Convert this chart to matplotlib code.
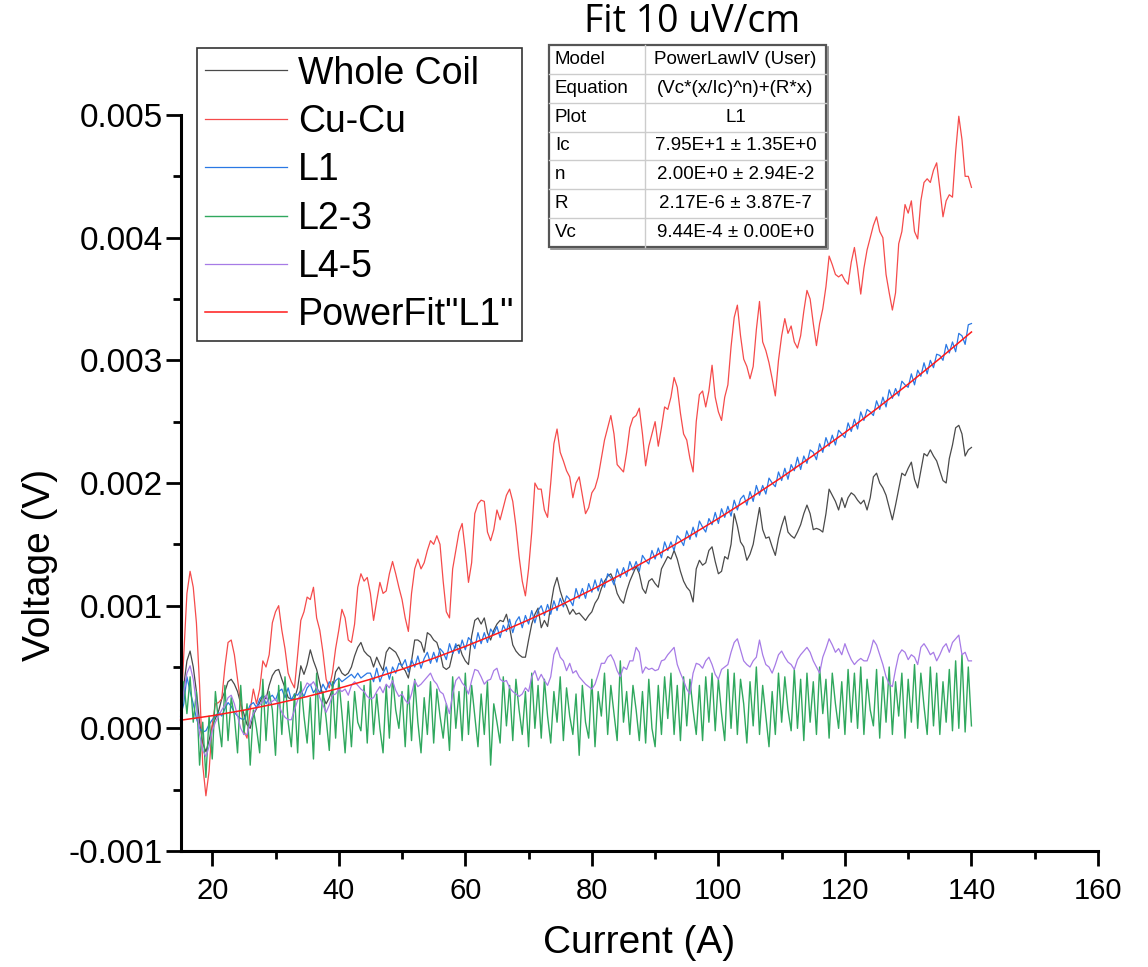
import numpy as np
import matplotlib
matplotlib.use("Agg")
import matplotlib.pyplot as plt
from matplotlib.ticker import MultipleLocator, FormatStrFormatter

# sampling grid of the measurement (A), 0.5 A steps from 15 A to 140 A
current_start = 15.0
current_step = 0.5

# voltages, in mV
whole_coil_mv = [
    0.15, 0.35, 0.55, 0.63, 0.5, 0.3, 0.05, -0.12, -0.19, -0.1,
    0.02, 0.08, 0.14, 0.24, 0.3, 0.38, 0.4, 0.36, 0.3, 0.2,
    0.12, 0.03, 0.0, 0.11, 0.16, 0.21, 0.27, 0.24, 0.35, 0.43,
    0.47, 0.48, 0.4, 0.33, 0.25, 0.24, 0.24, 0.33, 0.51, 0.44,
    0.52, 0.64, 0.55, 0.48, 0.37, 0.26, 0.2, 0.25, 0.32, 0.46,
    0.5, 0.45, 0.43, 0.45, 0.5, 0.59, 0.66, 0.7, 0.63, 0.6,
    0.58, 0.5, 0.58, 0.52, 0.47, 0.62, 0.66, 0.64, 0.62, 0.57,
    0.5, 0.47, 0.41, 0.55, 0.72, 0.72, 0.7, 0.62, 0.78, 0.76,
    0.72, 0.7, 0.62, 0.5, 0.48, 0.5, 0.61, 0.67, 0.68, 0.6,
    0.55, 0.52, 0.75, 0.88, 0.9, 0.85, 0.9, 0.78, 0.72, 0.8,
    0.85, 0.88, 0.87, 0.93, 0.82, 0.68, 0.63, 0.6, 0.58, 0.58,
    0.72, 0.85, 0.93, 0.98, 0.82, 0.88, 0.83, 1.0, 1.15, 1.23,
    1.12, 1.04, 1.0, 0.93, 0.97, 0.93, 0.94, 0.91, 0.88, 0.92,
    0.95, 1.02, 1.06, 1.14, 1.2, 1.24, 1.26, 1.2, 1.1, 1.05,
    1.02, 1.12, 1.2, 1.26, 1.32, 1.26, 1.14, 1.1, 1.2, 1.22,
    1.18, 1.15, 1.3, 1.35, 1.4, 1.38, 1.45, 1.38, 1.28, 1.2,
    1.15, 1.12, 1.03, 1.3, 1.37, 1.33, 1.35, 1.45, 1.48, 1.36,
    1.26, 1.28, 1.4, 1.38, 1.5, 1.75, 1.65, 1.52, 1.48, 1.37,
    1.42, 1.5, 1.65, 1.8, 1.62, 1.55, 1.56, 1.48, 1.41, 1.55,
    1.65, 1.73, 1.6, 1.57, 1.55, 1.6, 1.66, 1.75, 1.82, 1.75,
    1.62, 1.63, 1.62, 1.6, 1.75, 1.95, 1.9, 1.85, 1.78, 1.88,
    1.8, 1.88, 1.92, 1.9, 1.86, 1.83, 1.86, 1.78, 1.88, 2.05,
    2.08, 2.0, 1.96, 1.9, 1.8, 1.7, 1.82, 1.95, 2.08, 2.06,
    2.12, 2.17, 2.03, 1.96, 2.1, 2.24, 2.22, 2.27, 2.22, 2.18,
    2.1, 2.02, 2.0, 2.2, 2.31, 2.45, 2.47, 2.4, 2.22, 2.27,
    2.29,
]

cu_cu_mv = [
    0.05, 0.6, 1.1, 1.28, 1.15, 0.86, 0.35, -0.3, -0.55, -0.35,
    0.03, 0.2, 0.21, 0.24, 0.5, 0.7, 0.72, 0.6, 0.4, 0.2,
    -0.02, -0.08, 0.15, 0.32, 0.2, 0.32, 0.55, 0.5, 0.6, 0.86,
    0.95, 1.0, 0.8, 0.65, 0.45, 0.38, 0.33, 0.6, 0.88, 0.95,
    1.07, 1.05, 1.15, 0.9, 0.8, 0.62, 0.4, 0.33, 0.45, 0.65,
    0.8, 0.97, 0.9, 0.72, 0.7, 0.85, 1.15, 1.26, 1.2, 1.23,
    1.1, 0.88, 1.04, 1.19, 1.1, 1.12, 1.26, 1.36, 1.26, 1.15,
    1.05, 0.9, 0.79, 1.1, 1.3, 1.38, 1.3, 1.35, 1.45, 1.53,
    1.5, 1.57, 1.5, 1.2, 0.95, 0.9, 1.3, 1.45, 1.6, 1.67,
    1.45, 1.19, 1.35, 1.75, 1.83, 1.86, 1.85, 1.6, 1.53, 1.62,
    1.78, 1.7, 1.8, 1.9, 1.95, 1.85, 1.65, 1.4, 1.2, 1.08,
    1.3, 1.6, 2.0, 1.95, 1.95, 1.78, 1.72, 2.0, 2.32, 2.44,
    2.25, 2.18, 2.1, 2.05, 1.88, 2.0, 2.05, 1.9, 1.75, 1.8,
    1.92, 1.96, 2.05, 2.2, 2.35, 2.45, 2.55, 2.4, 2.15, 2.12,
    2.09, 2.25, 2.45, 2.53, 2.55, 2.61, 2.4, 2.14, 2.3, 2.4,
    2.5, 2.3, 2.45, 2.62, 2.6, 2.7, 2.86, 2.78, 2.57, 2.4,
    2.35, 2.2, 2.09, 2.5, 2.72, 2.75, 2.62, 2.75, 2.96, 2.7,
    2.58, 2.51, 2.7, 2.8, 3.11, 3.35, 3.45, 3.2, 3.01, 2.95,
    2.85, 2.95, 3.25, 3.48, 3.15, 3.08, 2.98, 2.85, 2.71, 3.0,
    3.2, 3.34, 3.22, 3.28, 3.15, 3.1, 3.2, 3.4, 3.57, 3.5,
    3.3, 3.12, 3.3, 3.42, 3.6, 3.85, 3.78, 3.7, 3.68, 3.7,
    3.65, 3.62, 3.8, 3.92, 3.75, 3.54, 3.75, 3.9, 4.0, 4.1,
    4.17, 4.05, 4.0, 3.7, 3.55, 3.41, 3.55, 3.95, 4.05, 4.27,
    4.2, 4.3, 4.05, 3.99, 4.3, 4.45, 4.48, 4.45, 4.55, 4.61,
    4.4, 4.17, 4.3, 4.35, 4.33, 4.7, 4.99, 4.8, 4.5, 4.5,
    4.41,
]

l1_mv = [
    0.1, 0.2, 0.42, 0.3, 0.2, 0.08, 0.0, -0.03, -0.02, 0.03,
    0.07, 0.1, 0.13, 0.1, 0.16, 0.21, 0.18, 0.13, 0.1, 0.08,
    0.07, 0.13, 0.19, 0.21, 0.17, 0.24, 0.27, 0.2, 0.25, 0.27,
    0.23, 0.3, 0.32, 0.25, 0.33, 0.23, 0.28, 0.27, 0.31, 0.26,
    0.33, 0.36, 0.29, 0.33, 0.29, 0.36, 0.31, 0.38, 0.34, 0.39,
    0.41, 0.38, 0.4, 0.42, 0.44, 0.41, 0.45, 0.41, 0.43, 0.45,
    0.45, 0.38, 0.49, 0.38, 0.45, 0.50, 0.40, 0.50, 0.45, 0.53,
    0.51, 0.56, 0.46, 0.56, 0.50, 0.59, 0.49, 0.57, 0.62, 0.53,
    0.62, 0.54, 0.65, 0.62, 0.56, 0.69, 0.61, 0.69, 0.61, 0.72,
    0.64, 0.74, 0.71, 0.65, 0.78, 0.69, 0.78, 0.70, 0.81, 0.77,
    0.83, 0.74, 0.84, 0.79, 0.89, 0.78, 0.87, 0.91, 0.82, 0.92,
    0.85, 0.96, 0.86, 0.96, 1.00, 0.92, 1.01, 0.93, 1.04, 0.96,
    1.06, 0.99, 1.08, 1.05, 1.00, 1.14, 1.06, 1.14, 1.06, 1.18,
    1.11, 1.21, 1.12, 1.22, 1.15, 1.26, 1.23, 1.17, 1.30, 1.23,
    1.31, 1.24, 1.36, 1.29, 1.36, 1.28, 1.41, 1.37, 1.34, 1.45,
    1.38, 1.47, 1.39, 1.52, 1.45, 1.52, 1.45, 1.57, 1.54, 1.49,
    1.61, 1.54, 1.64, 1.56, 1.69, 1.64, 1.60, 1.71, 1.66, 1.76,
    1.67, 1.79, 1.72, 1.81, 1.73, 1.86, 1.78, 1.87, 1.90, 1.82,
    1.93, 1.85, 1.98, 1.90, 1.98, 1.91, 2.04, 2.00, 1.97, 2.09,
    2.02, 2.12, 2.03, 2.15, 2.10, 2.21, 2.11, 2.22, 2.16, 2.27,
    2.25, 2.19, 2.32, 2.25, 2.37, 2.30, 2.39, 2.31, 2.43, 2.40,
    2.37, 2.49, 2.42, 2.52, 2.44, 2.58, 2.51, 2.60, 2.58, 2.55,
    2.67, 2.60, 2.70, 2.62, 2.76, 2.69, 2.77, 2.71, 2.83, 2.80,
    2.78, 2.89, 2.80, 2.92, 2.87, 2.98, 2.89, 3.00, 2.94, 3.05,
    3.04, 3.00, 3.13, 3.06, 3.15, 3.07, 3.22, 3.20, 3.13, 3.29,
    3.30,
]

l2_3_mv = [
    -0.05, 0.38, 0.12, 0.42, 0.05, 0.3, -0.3, 0.05, -0.4, 0.1,
    -0.25, 0.3, 0.05, -0.15, 0.35, -0.1, 0.25, 0.1, -0.2, 0.35,
    -0.05, 0.2, -0.3, 0.15, 0.0, -0.2, 0.4, -0.1, 0.3, 0.15,
    -0.22, 0.35, -0.05, 0.42, 0.05, -0.15, 0.28, -0.2, 0.38, 0.1,
    -0.12, 0.25, -0.25, 0.45, -0.05, 0.3, 0.08, -0.18, 0.38, -0.08,
    0.4, 0.12, -0.2, 0.22, -0.15, 0.3, 0.05, -0.02, 0.35, -0.12,
    0.4, -0.05, 0.28, 0.0, -0.2, 0.35, -0.08, 0.42, 0.15, 0.0,
    0.3, -0.15, 0.35, -0.1, 0.4, 0.05, -0.2, 0.25, -0.05, 0.38,
    -0.12, 0.32, 0.1, -0.08, 0.2, -0.18, 0.42, 0.0, 0.3, -0.1,
    0.45, -0.05, 0.35, 0.1, -0.15, 0.28, -0.05, 0.38, -0.3, 0.2,
    0.05, -0.12, 0.42, 0.02, 0.35, -0.1, 0.4, 0.15, -0.05, 0.3,
    -0.15, 0.45, 0.0, 0.35, -0.08, 0.4, 0.1, -0.12, 0.3, 0.05,
    0.42, -0.1, 0.33, 0.1, -0.05, 0.28, -0.22, 0.35, 0.05, -0.08,
    0.4, -0.15, 0.3, 0.1, 0.45, -0.05, 0.35, 0.12, -0.1, 0.55,
    0.05, 0.3, -0.05, 0.35, 0.15, -0.1, 0.3, -0.12, 0.4, 0.0,
    -0.15, 0.35, -0.05, 0.42, 0.08, 0.45, -0.05, 0.35, -0.1, 0.42,
    0.02, 0.4, 0.15, -0.05, 0.35, -0.1, 0.42, 0.05, 0.45, -0.02,
    0.4, 0.12, -0.1, 0.48, 0.0, 0.45, -0.05, 0.4, 0.2, -0.12,
    0.38, 0.02, 0.5, -0.05, 0.35, 0.1, -0.15, 0.3, -0.05, 0.45,
    0.05, 0.42, 0.15, -0.02, 0.48, 0.0, 0.4, -0.1, 0.45, 0.05,
    0.38, -0.05, 0.5, 0.12, 0.4, -0.08, 0.45, 0.2, 0.0, 0.38,
    -0.05, 0.48, 0.05, 0.45, 0.0, 0.5, -0.05, 0.4, 0.15, 0.02,
    0.48, -0.08, 0.42, 0.05, 0.5, -0.05, 0.38, 0.1, 0.45, -0.08,
    0.4, 0.05, 0.52, 0.0, 0.45, 0.18, -0.05, 0.5, 0.02, 0.45,
    -0.05, 0.38, 0.05, 0.48, -0.02, 0.55, 0.0, 0.6, -0.03, 0.5,
    0.02,
]

l4_5_mv = [
    0.1, 0.3, 0.45, 0.51, 0.4, 0.2, -0.05, -0.18, -0.23, -0.15,
    -0.02, 0.05, 0.1, 0.15, 0.19, 0.25, 0.27, 0.2, 0.1, 0.0,
    -0.05, -0.05, 0.05, 0.12, 0.17, 0.19, 0.22, 0.27, 0.2, 0.22,
    0.24, 0.19, 0.13, 0.09, 0.07, 0.07, 0.15, 0.23, 0.28, 0.32,
    0.37, 0.35, 0.38, 0.33, 0.25, 0.19, 0.13, 0.19, 0.27, 0.28,
    0.32, 0.3, 0.32, 0.27, 0.35, 0.38, 0.35, 0.32, 0.3, 0.26,
    0.24, 0.25, 0.3, 0.34, 0.29, 0.36, 0.33, 0.39, 0.31, 0.26,
    0.28, 0.23, 0.2, 0.28, 0.39, 0.34, 0.36, 0.39, 0.42, 0.45,
    0.39, 0.36, 0.3, 0.28, 0.2, 0.12, 0.28, 0.39, 0.42, 0.37,
    0.34, 0.28, 0.39, 0.48, 0.47, 0.42, 0.36, 0.39, 0.4, 0.47,
    0.49, 0.4, 0.38, 0.39, 0.33, 0.3, 0.28, 0.26, 0.28, 0.33,
    0.3, 0.42, 0.47, 0.39, 0.44, 0.39, 0.35, 0.42, 0.6, 0.66,
    0.58, 0.55, 0.47, 0.53, 0.45, 0.47, 0.42, 0.39, 0.36, 0.34,
    0.32, 0.36, 0.44, 0.53, 0.53, 0.58, 0.6, 0.55, 0.47, 0.42,
    0.5, 0.48, 0.55, 0.55, 0.66, 0.62, 0.45, 0.5, 0.48, 0.49,
    0.47, 0.48, 0.55, 0.56, 0.6, 0.63, 0.66, 0.52, 0.45, 0.39,
    0.32, 0.28, 0.45, 0.53, 0.52, 0.49, 0.55, 0.58, 0.52, 0.44,
    0.4, 0.48, 0.5, 0.52, 0.62, 0.7, 0.73, 0.64, 0.55, 0.52,
    0.5, 0.55, 0.58, 0.72, 0.6, 0.52, 0.5, 0.45, 0.52, 0.6,
    0.63, 0.58, 0.54, 0.52, 0.48, 0.56, 0.6, 0.63, 0.66, 0.62,
    0.55, 0.5, 0.45, 0.58, 0.65, 0.73, 0.68, 0.62, 0.65, 0.6,
    0.69, 0.62, 0.56, 0.52, 0.55, 0.57, 0.55, 0.55, 0.62, 0.72,
    0.68, 0.6, 0.52, 0.42, 0.36, 0.34, 0.48, 0.6, 0.64, 0.62,
    0.56, 0.6, 0.58, 0.52, 0.66, 0.69, 0.65, 0.6, 0.62, 0.55,
    0.6, 0.66, 0.69, 0.62, 0.7, 0.73, 0.76, 0.6, 0.62, 0.55,
    0.55,
]

# power-law fit curve of L1, read every 5 A (mV)
fit_current = [15, 20, 25, 30, 35, 40, 45, 50, 55, 60, 65, 70, 75,
               80, 85, 90, 95, 100, 105, 110, 115, 120, 125, 130, 135, 140]
fit_mv = [0.066, 0.103, 0.148, 0.200, 0.259, 0.326, 0.400, 0.482, 0.571,
          0.668, 0.772, 0.884, 1.003, 1.130, 1.264, 1.405, 1.554, 1.711,
          1.875, 2.046, 2.225, 2.411, 2.605, 2.806, 3.015, 3.231]

series_labels = ["Whole Coil", "Cu-Cu", "L1", "L2-3", "L4-5", 'PowerFit"L1"']

table_rows = [
    ("Model", "PowerLawIV (User)"),
    ("Equation", "(Vc*(x/Ic)^n)+(R*x)"),
    ("Plot", "L1"),
    ("Ic", "7.95E+1 \u00b1 1.35E+0"),
    ("n", "2.00E+0 \u00b1 2.94E-2"),
    ("R", "2.17E-6 \u00b1 3.87E-7"),
    ("Vc", "9.44E-4 \u00b1 0.00E+0"),
]

SANS = ["Liberation Sans", "DejaVu Sans"]


def to_volts(values_mv):
    return np.asarray(values_mv) * 1e-3


def grid_for(values):
    return current_start + current_step * np.arange(len(values))


fig = plt.figure(figsize=(11.48, 9.67), dpi=100)
ax = fig.add_axes([180.6 / 1148, 1 - 851 / 967, (1098 - 180.6) / 1148, (851 - 115) / 967])

styles = [
    (whole_coil_mv, "#4a4a4a", 0.9),
    (cu_cu_mv, "#f54b4b", 0.9),
    (l1_mv, "#2a78e4", 0.9),
    (l2_3_mv, "#30a85e", 1.0),
    (l4_5_mv, "#a77be6", 0.9),
]
for (vals, color, lw), label in zip(styles, series_labels):
    ax.plot(grid_for(vals), to_volts(vals), color=color, lw=lw, label=label, clip_on=False)

ax.plot(fit_current, to_volts(fit_mv), color="#ff1a1a", lw=1.1, label=series_labels[-1], clip_on=False)

ax.set_xlim(15, 160)
ax.set_ylim(-0.001, 0.005)
ax.xaxis.set_major_locator(MultipleLocator(20))
ax.xaxis.set_minor_locator(MultipleLocator(10))
ax.yaxis.set_major_locator(MultipleLocator(0.001))
ax.yaxis.set_minor_locator(MultipleLocator(0.0005))
ax.yaxis.set_major_formatter(FormatStrFormatter("%.3f"))

for side in ("top", "right"):
    ax.spines[side].set_visible(False)
for side in ("left", "bottom"):
    ax.spines[side].set_linewidth(2.2)

ax.tick_params(which="major", direction="out", length=11, width=2)
ax.tick_params(which="minor", direction="out", length=6, width=2)
ax.tick_params(axis="x", which="major", pad=8)
ax.tick_params(axis="y", which="major", pad=2)
for lab in ax.get_yticklabels():
    lab.set_fontfamily(SANS)
    lab.set_fontsize(24)
for lab in ax.get_xticklabels():
    lab.set_fontfamily(SANS)
    lab.set_fontsize(21)

fig.text(40 / 1148, 1 - 565 / 967, "Voltage (V)", rotation=90, ha="center", va="center",
         fontsize=28, family=SANS)
fig.text(639 / 1148, 1 - 943 / 967, "Current (A)", ha="center", va="center",
         fontsize=28, family=SANS)

leg = ax.legend(loc="upper left", bbox_to_anchor=(197 / 1148, 1 - 48 / 967),
                bbox_transform=fig.transFigure, borderaxespad=0, fancybox=False,
                framealpha=1, edgecolor="#333333", handlelength=2.2, handletextpad=0.3,
                labelspacing=0.33, borderpad=0.2, prop={"family": SANS, "size": 27})
leg.get_frame().set_linewidth(1.2)

# fit report table, drawn in pixel coordinates of the figure
tab = fig.add_axes([0, 0, 1, 1], facecolor="none")
tab.set_xlim(0, 1148)
tab.set_ylim(967, 0)
tab.axis("off")

t_left, t_right, t_mid = 549, 826, 645
t_top, t_bottom = 45, 247
row_h = (t_bottom - t_top) / len(table_rows)
tab.add_patch(plt.Rectangle((t_left, t_top), t_right - t_left, t_bottom - t_top,
                            facecolor="white", edgecolor="#555555", lw=1.6, zorder=1))
tab.plot([t_left + 2, t_right + 1.5, t_right + 1.5], [t_bottom + 1.5, t_bottom + 1.5, t_top + 2],
         color="#888888", lw=1.2, zorder=2)
for k in range(1, len(table_rows)):
    y = t_top + k * row_h
    tab.plot([t_left, t_right], [y, y], color="#cccccc", lw=1, zorder=2)
tab.plot([t_mid, t_mid], [t_top, t_bottom], color="#cccccc", lw=1, zorder=2)
for k, (name, value) in enumerate(table_rows):
    yc = t_top + (k + 0.5) * row_h
    tab.text(t_left + 6, yc, name, ha="left", va="center", fontsize=13.5, family=SANS, zorder=3)
    tab.text((t_mid + t_right) / 2, yc, value, ha="center", va="center", fontsize=13.5,
             family=SANS, zorder=3)

tab.text(692, 22, "Fit 10 uV/cm", ha="center", va="center", fontsize=27,
         family=["Open Sans", "DejaVu Sans"])

fig.savefig("out.png", dpi=100)
